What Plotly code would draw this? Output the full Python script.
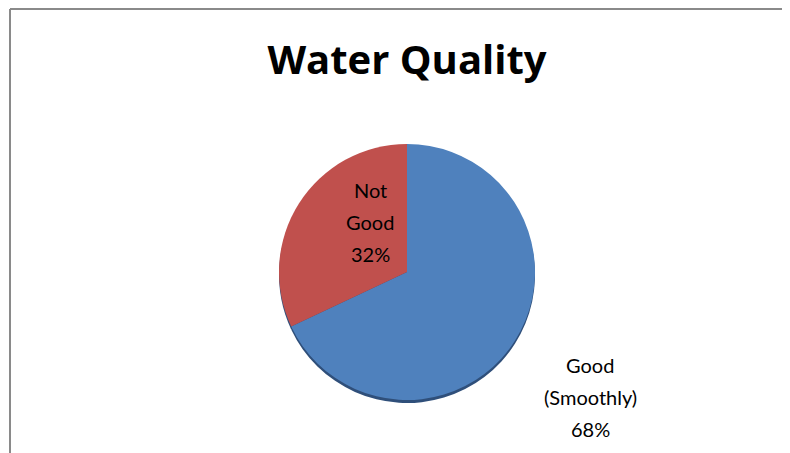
import plotly.graph_objects as go

# slice data
names = ["Good", "Not Good"]
label_lines = [["Good", "(Smoothly)"], ["Not", "Good"]]
values = [68, 32]
colors = ["#4F81BD", "#C0504D"]
shadow_color = "#2F4F7A"

# the page body adds an 8px margin, so the figure is offset
OFF = 8
W, H = 790 - OFF, 453 - OFF
FONT = "Lato, Open Sans, sans-serif"


def px(x):
    return (x - OFF) / W


def py(y):
    return 1 - (y - OFF) / H


fig = go.Figure()

# soft 3D-like rim under the pie
fig.add_trace(go.Pie(
    labels=names,
    values=values,
    sort=False,
    direction="clockwise",
    rotation=0,
    marker=dict(colors=[shadow_color] * len(values), line=dict(width=0)),
    textinfo="none",
    hoverinfo="skip",
    showlegend=False,
    domain=dict(x=[px(278), px(536)], y=[py(403), py(147)]),
))

fig.add_trace(go.Pie(
    labels=names,
    values=values,
    sort=False,
    direction="clockwise",
    rotation=0,
    marker=dict(colors=colors, line=dict(width=0)),
    textinfo="none",
    hoverinfo="label+percent",
    showlegend=False,
    domain=dict(x=[px(278), px(536)], y=[py(400), py(144)]),
))

total = sum(values)
pct = [round(v * 100 / total) for v in values]

# data labels: outside for Good, inside for Not Good (centre x, first line y)
label_pos = [(590, 365), (370, 190)]
LINE = 32
annotations = []
for lines, p, (cx, cy) in zip(label_lines, pct, label_pos):
    for i, t in enumerate(lines + [f"{p}%"]):
        annotations.append(dict(
            x=px(cx), y=py(cy + i * LINE), xref="paper", yref="paper",
            text=t, showarrow=False,
            font=dict(family=FONT, size=20, color="#000000"),
            xanchor="center", yanchor="middle",
        ))

fig.update_layout(
    title=dict(
        text="<b>Water Quality</b>",
        x=px(407), xanchor="center",
        y=py(60), yanchor="middle",
        font=dict(family="Open Sans, sans-serif", size=40, color="#000000"),
    ),
    annotations=annotations,
    shapes=[
        dict(type="line", xref="paper", yref="paper",
             x0=px(10), x1=px(10), y0=0, y1=py(9),
             line=dict(color="#8a8a8a", width=2)),
        dict(type="line", xref="paper", yref="paper",
             x0=px(10), x1=1, y0=py(9), y1=py(9),
             line=dict(color="#8a8a8a", width=2)),
    ],
    width=W,
    height=H,
    margin=dict(l=0, r=0, t=0, b=0),
    paper_bgcolor="white",
    plot_bgcolor="white",
)

fig.write_html("out.html")
